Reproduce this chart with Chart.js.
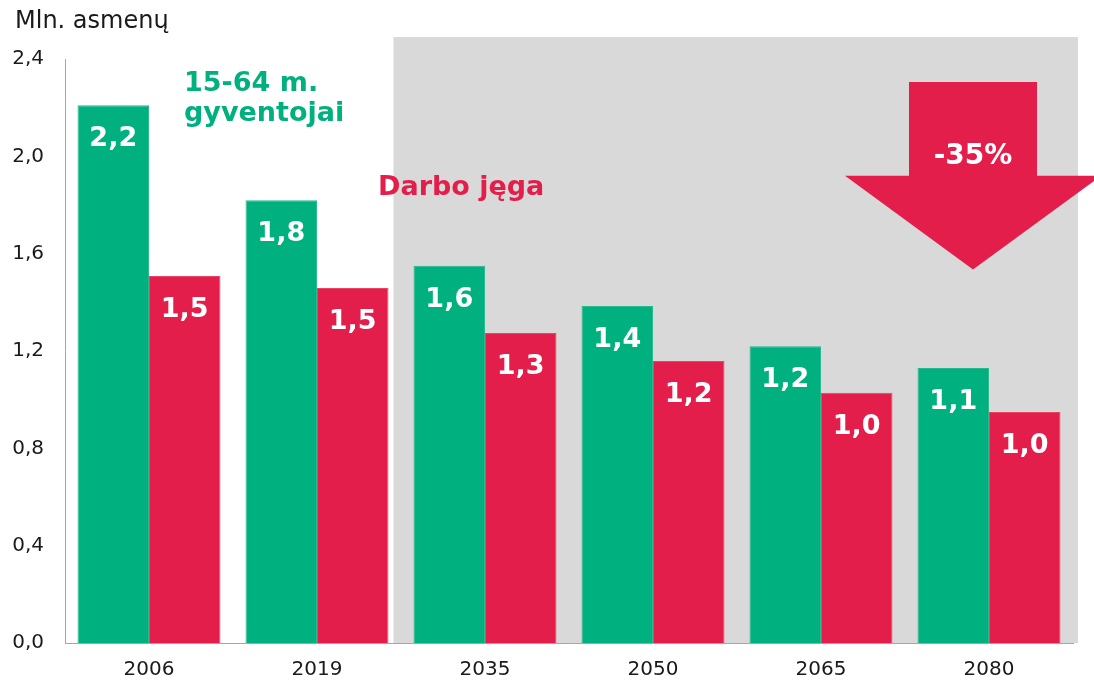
<!DOCTYPE html>
<html lang="lt">
<head>
<meta charset="utf-8">
<title>Gyventojai ir darbo jėga</title>
<script src="https://cdn.jsdelivr.net/npm/chart.js@4.4.1/dist/chart.umd.min.js"></script>
<style>
  html, body { margin: 0; padding: 0; background: #ffffff; }
  #wrap { width: 1094px; height: 681px; }
</style>
</head>
<body>
<div id="wrap"><canvas id="grafikas" width="1094" height="681"></canvas></div>
<script>
const metai = ["2006", "2019", "2035", "2050", "2065", "2080"];
const gyventojai = [2.21, 1.82, 1.55, 1.385, 1.22, 1.13];
const darboJega = [1.508, 1.459, 1.274, 1.159, 1.028, 0.949];
const gyventojaiEtiketes = ["2,2", "1,8", "1,6", "1,4", "1,2", "1,1"];
const darboJegaEtiketes = ["1,5", "1,5", "1,3", "1,2", "1,0", "1,0"];
const yTicks = [0, 0.4, 0.8, 1.2, 1.6, 2.0, 2.4];

const ZALIA = "#00b07e";
const RAUDONA = "#e31e4b";
const PILKA = "#d9d9d9";
const SRIFTAS = "'DejaVu Sans', Verdana, sans-serif";

// pilkas fonas prognozės laikotarpiui
const fonas = {
  id: "fonas",
  beforeDatasetsDraw(chart) {
    const { ctx, chartArea, scales } = chart;
    const raud = chart.getDatasetMeta(1).data[1];
    const kaire = raud.x + raud.width / 2 + 5;
    const virsus = scales.y.getPixelForValue(2.49);
    ctx.save();
    ctx.fillStyle = PILKA;
    ctx.fillRect(kaire, virsus, chartArea.right + 5 - kaire, chartArea.bottom - virsus);
    ctx.restore();
  }
};

function uzrasai(chart) {
  const ctx = chart.ctx;
  ctx.save();
  ctx.fillStyle = "#ffffff";
  ctx.font = "bold 27px " + SRIFTAS;
  ctx.textAlign = "center";
  ctx.textBaseline = "alphabetic";
  [gyventojaiEtiketes, darboJegaEtiketes].forEach((etiketes, i) => {
    chart.getDatasetMeta(i).data.forEach((bar, j) => {
      ctx.fillText(etiketes[j], bar.x, bar.y + 41);
    });
  });
  ctx.restore();
}

function rodykle(chart) {
  const { ctx, scales } = chart;
  const cx = scales.x.getPixelForValue(5) - 16;
  const virsus = scales.y.getPixelForValue(2.305);
  const vidurys = scales.y.getPixelForValue(1.92);
  const smaigalys = scales.y.getPixelForValue(1.535);

  ctx.save();
  ctx.fillStyle = RAUDONA;
  ctx.beginPath();
  ctx.moveTo(cx - 64, virsus);
  ctx.lineTo(cx + 64, virsus);
  ctx.lineTo(cx + 64, vidurys);
  ctx.lineTo(cx + 128, vidurys);
  ctx.lineTo(cx, smaigalys);
  ctx.lineTo(cx - 128, vidurys);
  ctx.lineTo(cx - 64, vidurys);
  ctx.closePath();
  ctx.fill();

  ctx.fillStyle = "#ffffff";
  ctx.font = "bold 28px " + SRIFTAS;
  ctx.textAlign = "center";
  ctx.textBaseline = "alphabetic";
  ctx.fillText("-35%", cx, 164);
  ctx.restore();
}

function tekstai(chart) {
  const ctx = chart.ctx;
  ctx.save();
  ctx.textAlign = "left";
  ctx.textBaseline = "alphabetic";

  ctx.fillStyle = "#1a1a1a";
  ctx.font = "24px " + SRIFTAS;
  ctx.fillText("Mln. asmenų", 15, 28);

  ctx.fillStyle = ZALIA;
  ctx.font = "bold 27px " + SRIFTAS;
  ctx.fillText("15-64 m.", 184, 91);
  ctx.fillText("gyventojai", 184, 121);

  ctx.fillStyle = RAUDONA;
  ctx.fillText("Darbo jęga", 378, 195);
  ctx.restore();
}

const papildomi = {
  id: "papildomi",
  afterDatasetsDraw(chart) {
    uzrasai(chart);
    rodykle(chart);
    tekstai(chart);
  }
};

new Chart(document.getElementById("grafikas"), {
  type: "bar",
  data: {
    labels: metai,
    datasets: [
      {
        label: "15-64 m. gyventojai",
        data: gyventojai,
        backgroundColor: ZALIA,
        borderColor: "#2ab98c",
        borderWidth: 1,
        categoryPercentage: 0.851,
        barPercentage: 1.0
      },
      {
        label: "Darbo jėga",
        data: darboJega,
        backgroundColor: RAUDONA,
        borderColor: "#e74466",
        borderWidth: 1,
        categoryPercentage: 0.851,
        barPercentage: 1.0
      }
    ]
  },
  options: {
    responsive: false,
    devicePixelRatio: 1,
    animation: false,
    layout: {
      padding: { top: 59, right: 21, left: 0, bottom: 0 }
    },
    plugins: {
      legend: { display: false },
      tooltip: { enabled: false }
    },
    scales: {
      x: {
        grid: { display: false, drawTicks: false },
        border: { display: true, color: "#a6a6a6", width: 1 },
        ticks: {
          color: "#1a1a1a",
          font: { family: SRIFTAS, size: 20 },
          padding: 15,
          maxRotation: 0
        },
        afterFit(scale) { scale.height = 38; }
      },
      y: {
        min: 0,
        max: 2.4,
        afterBuildTicks(scale) {
          scale.ticks = yTicks.map(v => ({ value: v }));
        },
        grid: { display: false, drawTicks: false },
        border: { display: true, color: "#a6a6a6", width: 1 },
        ticks: {
          color: "#1a1a1a",
          font: { family: SRIFTAS, size: 20 },
          padding: 21,
          callback: v => v.toFixed(1).replace(".", ",")
        },
        afterFit(scale) { scale.width = 65; }
      }
    }
  },
  plugins: [fonas, papildomi]
});
</script>
</body>
</html>
